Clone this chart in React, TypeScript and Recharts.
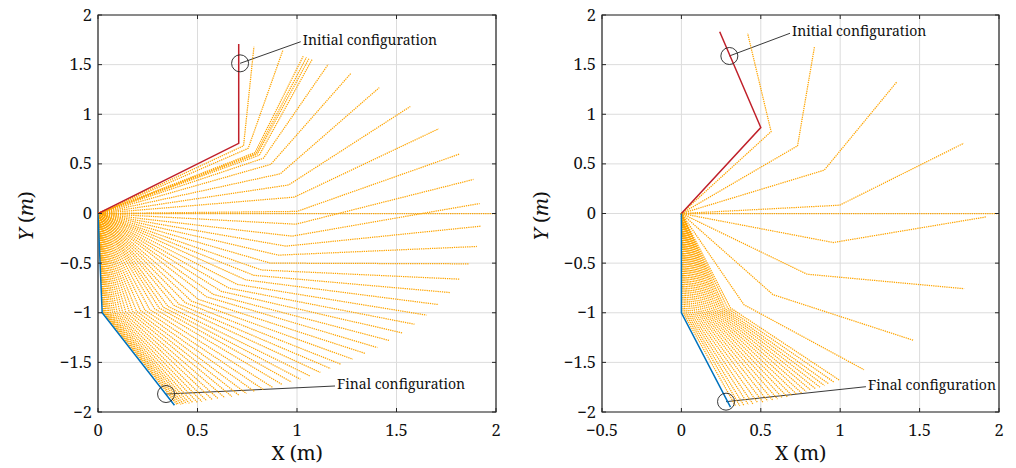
import React from 'react';
import {
  ScatterChart,
  Scatter,
  XAxis,
  YAxis,
  CartesianGrid,
  ReferenceArea,
  ReferenceDot,
  ReferenceLine,
  Label,
} from 'recharts';

// Two-link planar arm, both links 1 m long
const LINK_1 = 1;
const LINK_2 = 1;

// Axis ticks
const yTicks = [-2, -1.5, -1, -0.5, 0, 0.5, 1, 1.5, 2];
const leftXTicks = [0, 0.5, 1, 1.5, 2];
const rightXTicks = [-0.5, 0, 0.5, 1, 1.5, 2];

// Left run: absolute angle (deg) of link 1 and link 2 for every intermediate pose
const leftLink1Deg = [
  43, 41, 37.9, 37.3, 36.8, 35.9, 33.8, 29.7, 23.6, 16.7, 9.5, 1.2, -6.2, -13.2, 0,
  -19.2, -24.8, -30.0, -34.7, -38.5, -42.0, -45.6, -48.8, -51.7, -54.6, -57.0, -59.8,
  -62.0, -64.0, -66.0, -67.6, -69.4, -70.8, -72.1, -73.5, -75.0, -76.4, -77.7, -78.9,
  -80.0, -81.0, -82.0, -82.9, -83.7, -84.5, -85.2, -85.8, -86.4, -86.9, -87.3, -87.7,
  -88.0, -88.3, -88.5,
];
const leftLink2Deg = [
  87, 80, 76, 75.4, 74.9, 74.6, 71.0, 66.3, 60.2, 52.3, 43.5, 35.3, 26.8, 19.2, 0,
  11.6, 5.0, -0.4, -5.3, -10.0, -14.4, -18.0, -21.3, -24.7, -27.7, -30.8, -33.0,
  -35.8, -38.4, -40.4, -42.6, -44.5, -46.5, -48.3, -50.0, -51.8, -53.4, -54.9, -56.4,
  -57.7, -58.9, -60.1, -61.2, -62.2, -63.2, -64.0, -64.8, -65.5, -66.1, -66.6, -67.1,
  -67.5, -67.9, -68.2,
];
const leftInitialDeg = [45, 90];
const leftFinalDeg = [-88.8, -68.7];

// Right run
const rightLink1Deg = [
  55.6, 43, 25.9, 4.8, 0, -17, -37.7, -54.8, -66.8, -72, -73, -74, -74.8, -75.6, -76.4,
  -77.2, -78, -78.8, -79.6, -80.4, -81.2, -82, -82.8, -83.6, -84.4, -85.2, -86, -86.8,
  -87.5, -88.2, -88.8, -89.4,
];
const rightLink2Deg = [
  98.5, 83.9, 62.8, 38.6, 0, 15, -8.4, -27.5, -40.9, -46.7, -48, -49.2, -50.3, -51.4,
  -52.5, -53.6, -54.7, -55.8, -56.9, -58, -59.1, -60.2, -61.3, -62.4, -63.5, -64.6,
  -65.7, -66.8, -67.8, -68.8, -69.7, -70.6,
];
const rightInitialDeg = [60, 105];
const rightFinalDeg = [-90, -72];

// Annotation anchors (data units): circle centre, leader end, caption
const leftNotes = [
  { circle: { x: 0.714, y: 1.513 }, end: { x: 1.019, y: 1.731 }, text: 'Initial configuration' },
  { circle: { x: 0.342, y: -1.819 }, end: { x: 1.191, y: -1.738 }, text: 'Final configuration' },
];
const rightNotes = [
  { circle: { x: 0.302, y: 1.587 }, end: { x: 0.684, y: 1.816 }, text: 'Initial configuration' },
  { circle: { x: 0.281, y: -1.896 }, end: { x: 1.162, y: -1.745 }, text: 'Final configuration' },
];

const FONT = 'Noto Serif';
const AXIS = '#262626';
const GRID = '#dcdcdc';
const ORANGE = '#ffa500';
const RED = '#c0202a';
const BLUE = '#0072bd';
const CHART_H = 468;
const PLOT_TOP = 15;
const PLOT_BOTTOM = 412;
const TICK_LEN = 4;

const fmt = (v: number) => String(v).replace('-', '\u2212');

function armPoints(link1Deg: number, link2Deg: number) {
  const a = (link1Deg * Math.PI) / 180;
  const b = (link2Deg * Math.PI) / 180;
  const ex = LINK_1 * Math.cos(a);
  const ey = LINK_1 * Math.sin(a);
  return [
    { x: 0, y: 0 },
    { x: ex, y: ey },
    { x: ex + LINK_2 * Math.cos(b), y: ey + LINK_2 * Math.sin(b) },
  ];
}

const NoMarker = () => <g />;

type Note = { circle: { x: number; y: number }; end: { x: number; y: number }; text: string };

type PanelProps = {
  left: number;
  width: number;
  yAxisWidth: number;
  marginRight: number;
  xDomain: [number, number];
  xTicks: number[];
  link1: number[];
  link2: number[];
  initial: number[];
  final: number[];
  notes: Note[];
  yLabelX: number;
};

function ArmPanel(p: PanelProps) {
  const plotLeft = p.yAxisWidth;
  const plotRight = p.width - p.marginRight;
  const plotMidX = (plotLeft + plotRight) / 2;

  const bottomTick = (t: any) => (
    <g>
      <line x1={t.x} x2={t.x} y1={PLOT_BOTTOM} y2={PLOT_BOTTOM - TICK_LEN} stroke={AXIS} strokeWidth={1} />
      <line x1={t.x} x2={t.x} y1={PLOT_TOP} y2={PLOT_TOP + TICK_LEN} stroke={AXIS} strokeWidth={1} />
      <text x={t.x} y={PLOT_BOTTOM + 24} textAnchor="middle" fontFamily={FONT} fontSize={16.5} fill="#111">
        {fmt(t.payload.value)}
      </text>
    </g>
  );

  const leftTick = (t: any) => (
    <g>
      <line x1={plotLeft} x2={plotLeft + TICK_LEN} y1={t.y} y2={t.y} stroke={AXIS} strokeWidth={1} />
      <line x1={plotRight} x2={plotRight - TICK_LEN} y1={t.y} y2={t.y} stroke={AXIS} strokeWidth={1} />
      <text x={plotLeft - 6} y={t.y + 5.5} textAnchor="end" fontFamily={FONT} fontSize={16.5} fill="#111">
        {fmt(t.payload.value)}
      </text>
    </g>
  );

  return (
    <div style={{ position: 'absolute', left: p.left, top: 0 }}>
      <ScatterChart
        width={p.width}
        height={CHART_H}
        margin={{ top: PLOT_TOP, right: p.marginRight, bottom: 0, left: 0 }}
      >
        <CartesianGrid stroke={GRID} strokeWidth={1} />
        <XAxis
          type="number"
          dataKey="x"
          domain={p.xDomain}
          ticks={p.xTicks}
          allowDataOverflow
          interval={0}
          height={CHART_H - PLOT_BOTTOM}
          axisLine={false}
          tickLine={false}
          tickSize={0}
          tickMargin={0}
          tick={bottomTick}
        >
          <Label
            content={() => (
              <text x={plotMidX} y={460} textAnchor="middle" fontFamily={FONT} fontSize={20} fill="#111">
                X (m)
              </text>
            )}
          />
        </XAxis>
        <YAxis
          type="number"
          dataKey="y"
          domain={[-2, 2]}
          ticks={yTicks}
          allowDataOverflow
          interval={0}
          width={p.yAxisWidth}
          axisLine={false}
          tickLine={false}
          tickSize={0}
          tickMargin={0}
          tick={leftTick}
        >
          <Label
            content={() => (
              <text
                x={p.yLabelX}
                y={216}
                transform={`rotate(-90 ${p.yLabelX} 216)`}
                textAnchor="middle"
                fontFamily={FONT}
                fontSize={20}
                fill="#111"
              >
                <tspan fontStyle="italic">Y</tspan>
                <tspan> (</tspan>
                <tspan fontStyle="italic">m</tspan>
                <tspan>)</tspan>
              </text>
            )}
          />
        </YAxis>

        {p.link1.map((a, i) => (
          <Scatter
            key={`pose-${i}`}
            data={armPoints(a, p.link2[i])}
            line={{ stroke: ORANGE, strokeWidth: 1.25, strokeDasharray: '1.3 0.9' }}
            shape={NoMarker}
            legendType="none"
            isAnimationActive={false}
          />
        ))}
        <Scatter
          data={armPoints(p.initial[0], p.initial[1])}
          line={{ stroke: RED, strokeWidth: 1.5 }}
          shape={NoMarker}
          legendType="none"
          isAnimationActive={false}
        />
        <Scatter
          data={armPoints(p.final[0], p.final[1])}
          line={{ stroke: BLUE, strokeWidth: 1.5 }}
          shape={NoMarker}
          legendType="none"
          isAnimationActive={false}
        />

        <ReferenceArea
          x1={p.xDomain[0]}
          x2={p.xDomain[1]}
          y1={-2}
          y2={2}
          fill="none"
          stroke={AXIS}
          strokeWidth={1.2}
          fillOpacity={0}
          ifOverflow="visible"
        />

        {p.notes.map((n, i) => (
          <ReferenceLine
            key={`lead-${i}`}
            segment={[n.circle, n.end]}
            stroke="#222"
            strokeWidth={0.9}
            ifOverflow="visible"
          />
        ))}
        {p.notes.map((n, i) => (
          <ReferenceDot
            key={`ring-${i}`}
            x={n.circle.x}
            y={n.circle.y}
            r={8.5}
            fill="none"
            stroke="#222"
            strokeWidth={0.9}
            ifOverflow="visible"
          />
        ))}
        {p.notes.map((n, i) => (
          <ReferenceDot
            key={`cap-${i}`}
            x={n.end.x}
            y={n.end.y}
            r={1}
            ifOverflow="visible"
            shape={(s: any) => (
              <text x={s.cx + 2} y={s.cy + 3} fontFamily={FONT} fontSize={14} fill="#111">
                {n.text}
              </text>
            )}
          />
        ))}
      </ScatterChart>
    </div>
  );
}

export default function App() {
  return (
    <div style={{ position: 'absolute', left: 0, top: 0, width: 1016, height: CHART_H, background: '#fff' }}>
      <ArmPanel
        left={0}
        width={510}
        yAxisWidth={98}
        marginRight={14}
        xDomain={[0, 2]}
        xTicks={leftXTicks}
        link1={leftLink1Deg}
        link2={leftLink2Deg}
        initial={leftInitialDeg}
        final={leftFinalDeg}
        notes={leftNotes}
        yLabelX={33}
      />
      <ArmPanel
        left={510}
        width={506}
        yAxisWidth={92}
        marginRight={17}
        xDomain={[-0.5, 2]}
        xTicks={rightXTicks}
        link1={rightLink1Deg}
        link2={rightLink2Deg}
        initial={rightInitialDeg}
        final={rightFinalDeg}
        notes={rightNotes}
        yLabelX={38}
      />
    </div>
  );
}
